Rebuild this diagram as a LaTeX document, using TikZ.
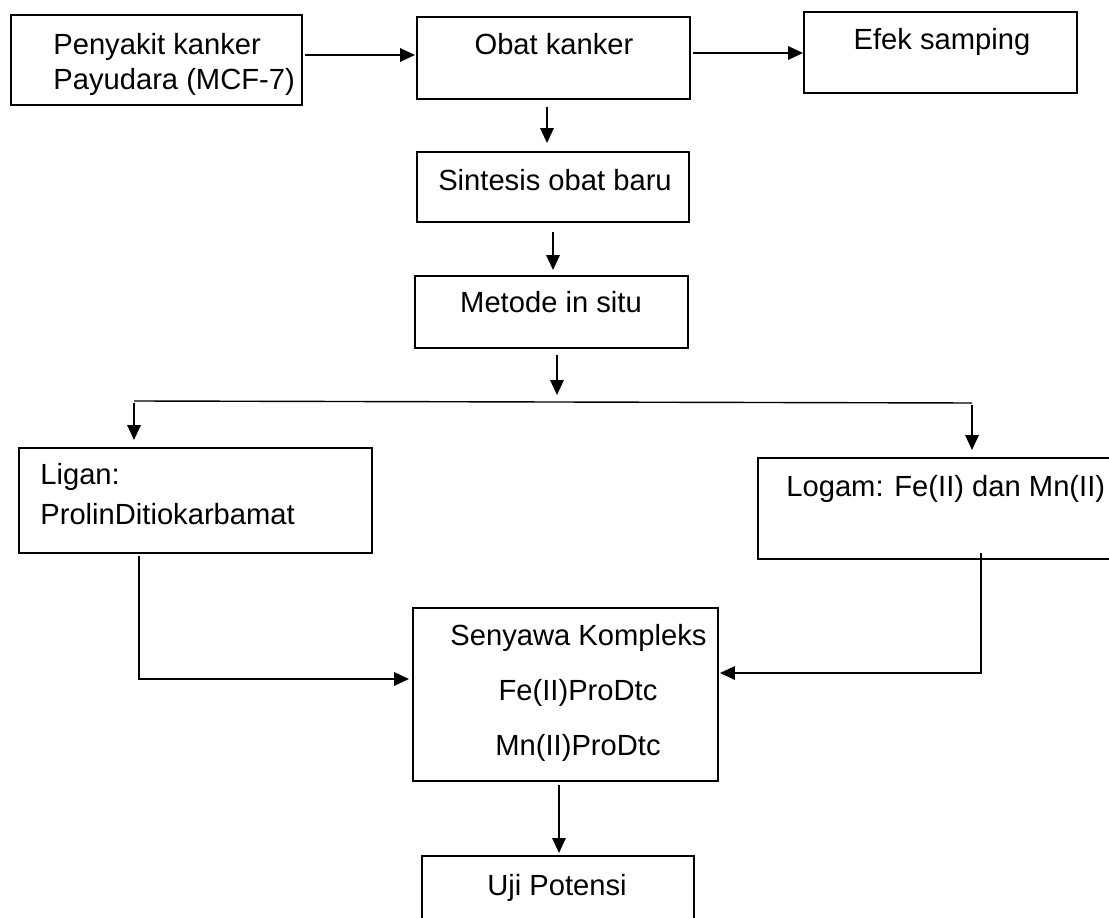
\documentclass[tikz,border=0pt]{standalone}
\usepackage{fontspec}
\setmainfont{Liberation Sans}
\usetikzlibrary{arrows.meta}

\begin{document}
\begin{tikzpicture}[x=0.02cm,y=-0.02cm,
  box/.style={draw,line width=1pt,inner sep=0pt,outer sep=0pt},
  txt/.style={inner sep=0pt,font=\fontsize{16.6}{20}\selectfont},
  arr/.style={line width=1pt,-{Triangle[length=0.3cm,width=0.27cm]}},
  thinline/.style={line width=0.8pt}]
  \useasboundingbox (0,0) rectangle (1109,918);
  \fill[white] (0,0) rectangle (1109,918);
  \clip (0,0) rectangle (1109,918);
  % boxes
  \node[box,minimum width=5.82cm,minimum height=1.8cm] (pen) at (156.5,60) {};
  \node[box,minimum width=5.46cm,minimum height=1.64cm] (obat) at (553.5,58) {};
  \node[box,minimum width=5.46cm,minimum height=1.62cm] (efek) at (940.5,52.5) {};
  \node[box,minimum width=5.44cm,minimum height=1.4cm] (sint) at (553,187) {};
  \node[box,minimum width=5.46cm,minimum height=1.44cm] (metode) at (551.5,312) {};
  \node[box,minimum width=7.06cm,minimum height=2.1cm] (ligan) at (195.5,500.5) {};
  \node[box,minimum width=7.34cm,minimum height=2.02cm] (logam) at (941.5,508.5) {};
  \node[box,minimum width=6.1cm,minimum height=3.46cm] (senyawa) at (565.5,694.5) {};
  \node[box,minimum width=5.44cm,minimum height=1.68cm] (uji) at (558,898) {};
  % texts
  \node[txt,anchor=base west] (pen1) at (53,55) {Penyakit kanker};
  \node[txt,anchor=base west] (pen2) at (53,90) {Payudara (MCF-7)};
  \node[txt,anchor=base] (obat1) at (554,55) {Obat kanker};
  \node[txt,anchor=base] (efek1) at (942,50) {Efek samping};
  \node[txt,anchor=base] (sint1) at (555,191) {Sintesis obat baru};
  \node[txt,anchor=base] (metode1) at (551,313) {Metode in situ};
  \node[txt,anchor=base west] (ligan1) at (40,485) {Ligan:};
  \node[txt,anchor=base west] (ligan2) at (40,525) {ProlinDitiokarbamat};
  \node[txt,anchor=base west] (logam1) at (786,497) {Logam: Fe(II) dan Mn(II)};
  \node[txt,anchor=base] (senyawa1) at (578.5,645) {Senyawa Kompleks};
  \node[txt,anchor=base] (senyawa2) at (578,700) {Fe(II)ProDtc};
  \node[txt,anchor=base] (senyawa3) at (578,755) {Mn(II)ProDtc};
  \node[txt,anchor=base] (uji1) at (557,895) {Uji Potensi};
  % join points
  \coordinate (split) at (557,401);
  \coordinate (splitL) at (134,401);
  \coordinate (splitR) at (972,403);
  \coordinate (ligjoin) at (139,679);
  \coordinate (logjoin) at (981,673);
  % arrows
  \draw[arr,shorten <=0.06cm,shorten >=0.04cm]
    ([yshift=0.1cm]pen.east) -- ([yshift=0.1cm]pen.east -| obat.west);
  \draw[arr,shorten <=0.06cm,shorten >=0.02cm]
    ([yshift=0.1cm]obat.east) -- ([yshift=0.1cm]obat.east -| efek.west);
  \draw[arr,shorten <=0.16cm,shorten >=0.18cm]
    ([xshift=-0.13cm]obat.south) -- ([xshift=-0.13cm]obat.south |- sint.north);
  \draw[arr,shorten <=0.2cm,shorten >=0.12cm]
    (sint.south) -- (sint.south |- metode.north);
  \draw[arr,shorten <=0.14cm,shorten >=0.12cm]
    (metode.south -| split) -- (split);
  \draw[thinline] (splitL) -- (splitR);
  \draw[arr,shorten <=0.04cm,shorten >=0.16cm] (splitL) -- (splitL |- ligan.north);
  \draw[arr,shorten <=0.04cm,shorten >=0.16cm] (splitR) -- (splitR |- logam.north);
  \draw[arr,shorten >=0.08cm]
    ([yshift=-0.06cm]ligan.south -| ligjoin) -- (ligjoin) -- (ligjoin -| senyawa.west);
  \draw[arr,shorten >=0.04cm]
    ([yshift=0.12cm]logam.south -| logjoin) -- (logjoin) -- (logjoin -| senyawa.east);
  \draw[arr,shorten <=0.08cm,shorten >=0.06cm]
    ([xshift=-0.13cm]senyawa.south) -- ([xshift=-0.13cm]senyawa.south |- uji.north);
\end{tikzpicture}
\end{document}
